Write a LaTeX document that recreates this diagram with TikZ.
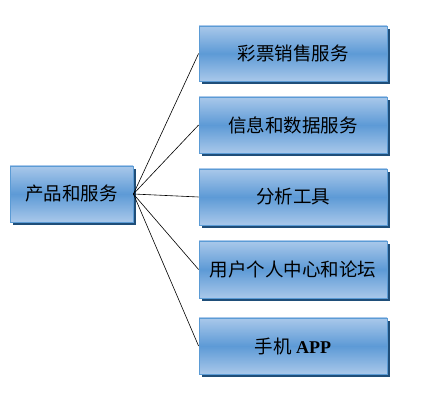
\documentclass[tikz,border=0pt]{standalone}
\usepackage{fontspec}
\setmainfont{Liberation Serif}
\newfontfamily\cjk{Noto Sans CJK SC}
\usetikzlibrary{shadows}
\definecolor{boxlight}{HTML}{A9C8EA}
\definecolor{boxmid}{HTML}{5D9AD6}
\definecolor{boxedge}{HTML}{5B9BD5}
\definecolor{boxshadow}{HTML}{1F4E79}
\begin{document}
\begin{tikzpicture}[x=1pt,y=-1pt,
  blk/.style={draw=boxedge, line width=0.8pt, top color=boxlight, bottom color=boxlight, middle color=boxmid,
    inner sep=0pt, font=\cjk\fontsize{18.5}{22}\selectfont,
    drop shadow={shadow xshift=3pt, shadow yshift=-3pt, fill=boxshadow, opacity=1}},
  conn/.style={draw=black, line width=0.6pt}]
\useasboundingbox (0,0) rectangle (429,403);
\node[blk, minimum width=123pt, minimum height=56pt] (root) at (71.5,194) {产品和服务\hspace{8pt}};
\node[blk, minimum width=188pt, minimum height=55pt] (b1) at (293,53.5) {彩票销售服务};
\node[blk, minimum width=188pt, minimum height=56pt] (b2) at (293,125) {信息和数据服务};
\node[blk, minimum width=188pt, minimum height=56pt] (b3) at (293,197) {分析工具};
\node[blk, minimum width=188pt, minimum height=57pt] (b4) at (293,269.5) {用户个人中心和论坛};
\node[blk, minimum width=188pt, minimum height=56pt] (b5) at (293,346) {手机 {\rmfamily\bfseries\fontsize{18}{22}\selectfont APP}};
\foreach \b in {b1,b2,b3,b4,b5} \draw[conn] (root.east) -- (\b.west);
\end{tikzpicture}
\end{document}
